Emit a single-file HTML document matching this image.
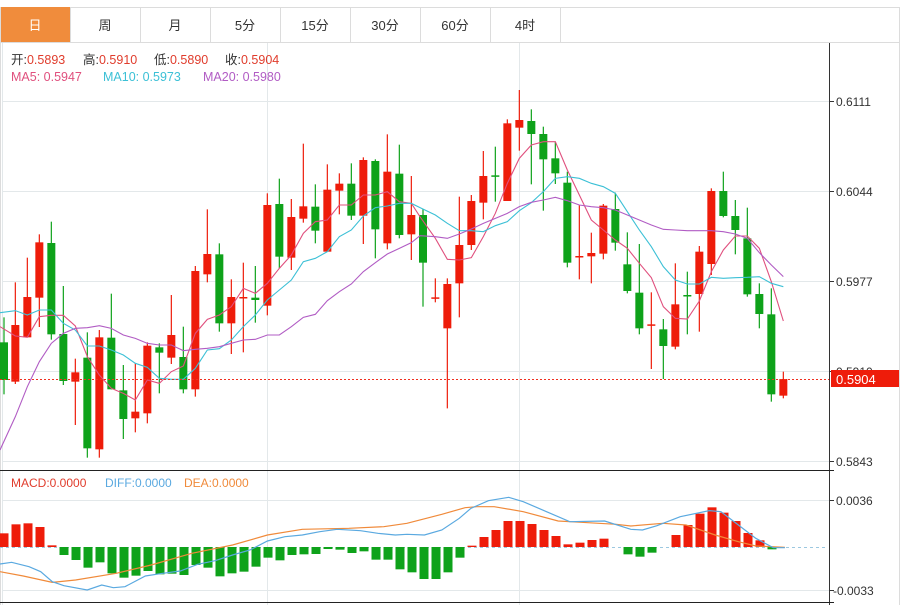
<!DOCTYPE html>
<html><head><meta charset="utf-8"><style>
body{margin:0;background:#fff;width:906px;height:605px;overflow:hidden;font-family:"Liberation Sans","Noto Sans CJK SC",sans-serif;}
svg{position:absolute;left:0;top:0}
text{font-family:"Liberation Sans","Noto Sans CJK SC",sans-serif}
</style></head><body>
<svg id="s" width="906" height="605" xmlns="http://www.w3.org/2000/svg">
<rect x="0.5" y="7.5" width="899" height="600" fill="none" stroke="#dcdcdc"/>
<line x1="0" y1="42.5" x2="900" y2="42.5" stroke="#dcdcdc"/>
<rect x="1" y="7" width="69" height="35" fill="#f08c3c"/>
<g stroke="#dcdcdc"><line x1="140.5" y1="7" x2="140.5" y2="42"/><line x1="210.5" y1="7" x2="210.5" y2="42"/><line x1="280.5" y1="7" x2="280.5" y2="42"/><line x1="350.5" y1="7" x2="350.5" y2="42"/><line x1="420.5" y1="7" x2="420.5" y2="42"/><line x1="490.5" y1="7" x2="490.5" y2="42"/><line x1="560.5" y1="7" x2="560.5" y2="42"/><line x1="70.5" y1="7" x2="70.5" y2="42"/></g>
<g font-size="13" fill="#333" text-anchor="middle">
<text x="35" y="30" fill="#fff">日</text><text x="105" y="30">周</text><text x="175" y="30">月</text><text x="245" y="30">5分</text><text x="315" y="30">15分</text><text x="385" y="30">30分</text><text x="455" y="30">60分</text><text x="525" y="30">4时</text>
</g>
<g stroke="#e3e8ea"><line x1="2" y1="101.5" x2="829" y2="101.5"/><line x1="2" y1="191.5" x2="829" y2="191.5"/><line x1="2" y1="281.5" x2="829" y2="281.5"/><line x1="2" y1="371.5" x2="829" y2="371.5"/><line x1="2" y1="461.5" x2="829" y2="461.5"/><line x1="267.5" y1="43" x2="267.5" y2="605"/><line x1="519.5" y1="43" x2="519.5" y2="605"/><line x1="2.5" y1="43" x2="2.5" y2="605"/><line x1="2" y1="500.5" x2="829" y2="500.5"/><line x1="2" y1="590.5" x2="829" y2="590.5"/></g>
<g font-size="12.5">
<text x="11" y="64" fill="#333">开:<tspan fill="#e03c2c">0.5893</tspan></text>
<text x="83" y="64" fill="#333">高:<tspan fill="#e03c2c">0.5910</tspan></text>
<text x="154" y="64" fill="#333">低:<tspan fill="#e03c2c">0.5890</tspan></text>
<text x="225" y="64" fill="#333">收:<tspan fill="#e03c2c">0.5904</tspan></text>
<text x="11" y="81" fill="#e0507e">MA5: 0.5947</text>
<text x="103" y="81" fill="#3cc0d6">MA10: 0.5973</text>
<text x="203" y="81" fill="#b15cc4">MA20: 0.5980</text>
<text x="11" y="487" fill="#e03c2c" font-size="12">MACD:0.0000</text>
<text x="105" y="487" fill="#5aa9e0" font-size="12">DIFF:0.0000</text>
<text x="184" y="487" fill="#f08a3a" font-size="12">DEA:0.0000</text>
</g>
<g id="c"></g>
<line x1="0" y1="379.5" x2="829" y2="379.5" stroke="#f03020" stroke-dasharray="2,2"/>
<line x1="829.5" y1="43" x2="829.5" y2="605" stroke="#333"/>
<line x1="0" y1="470.5" x2="834" y2="470.5" stroke="#222"/>
<line x1="0" y1="602.5" x2="834" y2="602.5" stroke="#222"/>
<g stroke="#333"><line x1="829" y1="101.5" x2="834" y2="101.5"/><line x1="829" y1="191.5" x2="834" y2="191.5"/><line x1="829" y1="281.5" x2="834" y2="281.5"/><line x1="829" y1="371.5" x2="834" y2="371.5"/><line x1="829" y1="461.5" x2="834" y2="461.5"/><line x1="829" y1="500.5" x2="834" y2="500.5"/><line x1="829" y1="590.5" x2="834" y2="590.5"/></g>
<g font-size="12" fill="#333"><text x="836" y="106">0.6111</text><text x="836" y="196">0.6044</text><text x="836" y="286">0.5977</text><text x="836" y="376">0.5910</text><text x="836" y="466">0.5843</text><text x="836" y="505">0.0036</text><text x="833" y="595">-0.0033</text></g>
<rect x="831" y="370" width="68" height="17" fill="#ee1c0a"/>
<text x="836" y="384" font-size="13" fill="#fff">0.5904</text>
</svg>
<script>
var N="http://www.w3.org/2000/svg",g=document.getElementById('c');
function el(t,a){var e=document.createElementNS(N,t);for(var k in a)e.setAttribute(k,a[k]);g.appendChild(e);return e;}
var R="#ee1c0a",G="#0ea21a";
var c1=[[12,'g',787,900,712,943],[46,'r',735,905,607,912],[82,'r',651,772,533,772],[118,'r',487,653,463,741],[154,'g',489,763,425,779],[190,'g',762,903,618,915],[226,'r',877,905,836,1035],[262,'g',833,1105,757,1133],[298,'r',772,1108,750,1133],[334,'g',773,928,641,928],[370,'g',931,1017,855,1077],[406,'r',995,1015,850,1057],[442,'r',797,1000,787,1030],[478,'g',802,818,790,940],[514,'r',765,833,645,852],[550,'g',831,928,740,940],[586,'r',573,928,558,950],[622,'r',522,583,388,607],[658,'g',523,730,490,755],[694,'r',651,730,598,822],[730,'r',651,653,548,817],[766,'g',653,660,558,728],[802,'r',375,677,340,706],[838,'g',372,530,296,565],[874,'r',411,533,357,570],[910,'r',379,416,191,428],[946,'g',380,452,313,490],[982,'r',329,515,253,515],[1018,'r',311,332,280,403],[1054,'g',311,407,250,420],[1090,'r',240,407,232,492],[1126,'g',243,448,238,535],[1162,'r',275,490,163,508],[1198,'g',281,465,194,475],[1234,'r',405,463,288,540]];
var c2=[[9,'g',405,548,388,680],[46,'r',652,656,595,667],[82,'r',612,745,595,985],[118,'r',495,610,350,712],[154,'r',363,495,345,510],[190,'r',288,368,213,418],[226,'g',286,290,200,365],[262,'r',130,363,118,363],[298,'r',120,143,30,212],[334,'g',123,162,88,313],[370,'g',162,238,140,392],[406,'g',235,280,185,312],[442,'g',308,548,275,562],[478,'r',528,532,375,598],[514,'r',519,529,458,610],[550,'r',377,521,372,538],[586,'g',387,488,338,512],[622,'g',553,633,457,640],[658,'g',638,745,492,763],[694,'r',733,737,637,867],[730,'g',748,798,717,897],[766,'r',673,800,550,808],[802,'g',645,649,575,763],[838,'r',515,642,498,755],[874,'r',333,552,325,585],[910,'g',333,408,275,412],[946,'g',408,450,360,523],[982,'g',475,643,383,650],[1018,'g',642,702,610,745],[1054,'g',703,943,625,965],[1090,'r',897,947,875,955]];
function cand(x,c,a,b,h,l){var col=c=='r'?R:G;el('line',{x1:x,x2:x,y1:h,y2:l,stroke:col,'stroke-width':1.2});el('rect',{x:x-4,y:a,width:8,height:Math.max(1.5,b-a),fill:col});}
c1.forEach(function(d){cand(d[0]/3,d[1],80+d[2]/3,80+d[3]/3,80+d[4]/3,80+d[5]/3);});
c2.forEach(function(d){cand(420+d[0]/3,d[1],80+d[2]/3,80+d[3]/3,80+d[4]/3,80+d[5]/3);});
function line(p1,p2,col){var pts=p1.map(function(p){return (p[0]/3)+','+(80+p[1]/3)}).concat(p2.map(function(p){return (420+p[0]/3)+','+(80+p[1]/3)}));el('polyline',{points:pts.join(' '),fill:'none',stroke:col,'stroke-width':1.1});}
line([[0,740],[46,768],[82,772],[118,710],[154,706],[190,706],[226,738],[262,830],[298,885],[334,925],[370,940],[406,960],[442,900],[478,910],[514,875],[550,858],[586,760],[622,718],[658,705],[694,680],[730,625],[766,640],[802,610],[838,565],[874,525],[910,460],[946,425],[982,420],[1018,375],[1054,375],[1090,345],[1126,345],[1162,335],[1198,365],[1234,370]],[[0,410],[46,475],[82,538],[118,540],[154,533],[190,470],[226,400],[262,310],[298,235],[334,195],[370,185],[406,185],[442,270],[478,345],[514,420],[550,450],[586,480],[622,505],[658,550],[694,593],[730,680],[766,715],[802,717],[838,663],[874,575],[910,510],[946,468],[982,468],[1018,505],[1054,605],[1090,723]],'#e0507e');
line([[0,698],[46,692],[82,705],[118,690],[154,690],[190,730],[226,750],[262,798],[298,798],[334,810],[370,825],[406,850],[442,862],[478,895],[514,898],[550,898],[586,865],[622,810],[658,806],[694,780],[730,740],[766,705],[802,660],[838,630],[874,600],[910,545],[946,535],[982,515],[1018,470],[1054,450],[1090,408],[1126,383],[1162,378],[1198,370],[1234,370]],[[0,383],[46,405],[82,430],[118,452],[154,452],[190,455],[226,437],[262,425],[298,392],[334,368],[370,335],[406,295],[442,290],[478,295],[514,310],[550,320],[586,340],[622,395],[658,450],[694,500],[730,560],[766,600],[802,612],[838,612],[874,592],[910,595],[946,593],[982,592],[1018,590],[1054,610],[1090,620]],'#3cc0d6');
line([[0,1110],[46,1010],[82,920],[118,845],[154,790],[190,760],[226,745],[262,743],[298,737],[334,745],[370,765],[406,775],[442,790],[478,795],[514,795],[550,812],[586,808],[622,805],[658,800],[694,790],[730,780],[766,778],[802,765],[838,765],[874,740],[910,712],[946,703],[982,662],[1018,635],[1054,612],[1090,575],[1126,548],[1162,522],[1198,505],[1234,488]],[[0,467],[46,470],[82,475],[118,462],[154,447],[190,430],[226,415],[262,400],[298,380],[334,367],[370,360],[406,352],[442,362],[478,375],[514,380],[550,383],[586,390],[622,405],[658,420],[694,435],[730,448],[766,450],[802,452],[838,452],[874,452],[910,455],[946,462],[982,475],[1018,518],[1054,555],[1090,590]],'#b15cc4');
var z=547;
el('line',{x1:0,x2:826,y1:z+.5,y2:z+.5,stroke:'#9cc8e0','stroke-dasharray':'3,3'});
var b=[205,178,175,186,241,270,285,308,292,325,338,332,318,328,326,330,300,308,334,325,320,305,278,286,270,268,267,252,254,264,259,284,284,313,322,342,342,322,278,242,216,195,168,168,177,195,213,238,233,225,221,248,268,275,263,247,210,180,146,127,143,168,204,226,253];
b.forEach(function(v,k){var y=465+v/3,x=4+12*k;var col=y<z?R:G;var t=Math.min(y,z),h=Math.abs(y-z);if(h<0.8)return;el('rect',{x:x-4.5,y:t,width:9,height:h,fill:col});});
function ml(p,col){el('polyline',{points:p.map(function(q){return (q[0]/1.72)+','+(465+q[1]/3)}).join(' '),fill:'none',stroke:col,'stroke-width':1.2});}
ml([[0,320],[40,333],[90,352],[130,345],[200,325],[260,300],[330,265],[400,240],[460,210],[520,193],[600,190],[660,185],[700,175],[760,148],[800,128],[820,125],[850,125],[900,140],[960,168],[1000,172],[1060,178],[1085,183],[1140,175],[1180,180],[1230,210],[1270,230],[1300,243],[1350,247]],'#f08a3a');
ml([[0,297],[20,292],[50,305],[70,320],[90,350],[110,362],[150,375],[175,360],[195,368],[215,365],[250,333],[280,325],[310,318],[340,298],[370,287],[400,270],[430,255],[460,228],[490,215],[520,210],[550,200],[580,193],[620,197],[650,205],[680,210],[700,208],[730,210],[760,195],[790,160],[810,130],[840,107],[875,97],[900,110],[940,140],[980,170],[1040,168],[1085,193],[1105,195],[1130,182],[1170,155],[1220,137],[1240,140],[1270,180],[1300,220],[1330,248],[1350,248]],'#5aa9e0');
</script>
</body></html>
